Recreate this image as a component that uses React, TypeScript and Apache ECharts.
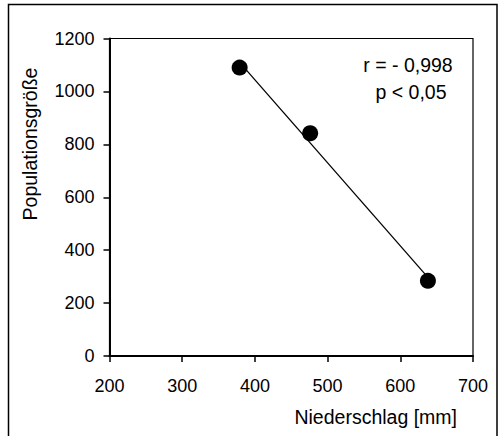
import React, { useEffect, useRef } from "react";
import * as echarts from "echarts";

const precipitation = [379, 476, 638];
const population = [1090, 842, 284];
const fitX = [379, 638];
const fitY = [1110, 297];
const xTicks = { min: 200, max: 700, interval: 100 };
const yTicks = { min: 0, max: 1200, interval: 200 };
const xName = "Niederschlag [mm]";
const yName = "Populationsgröße";
const statLines = ["r = - 0,998", "p < 0,05"];

const FONT = "'Liberation Sans', Arial, sans-serif";
const TICK_FS = 18;
const NAME_FS = 19.5;

export default function App() {
  const ref = useRef<HTMLDivElement>(null);
  useEffect(() => {
    if (!ref.current) return;
    const chart = echarts.init(ref.current, null, { renderer: "svg" });
    chart.setOption({
      animation: false,
      backgroundColor: "#fff",
      textStyle: { fontFamily: FONT },
      grid: {
        left: 109.5,
        right: 25,
        top: 38.5,
        bottom: 80,
        show: true,
        borderColor: "#000",
        borderWidth: 1.2,
        backgroundColor: "transparent",
      },
      xAxis: {
        type: "value",
        min: xTicks.min,
        max: xTicks.max,
        interval: xTicks.interval,
        axisLine: { show: true, onZero: false, lineStyle: { color: "#000", width: 2 } },
        axisTick: { show: true, inside: false, length: 6, lineStyle: { color: "#000", width: 1.5 } },
        axisLabel: {
          color: "#000",
          fontSize: TICK_FS,
          margin: 21,
          fontFamily: FONT,
          formatter: (v: number) => String(v),
        },
        splitLine: { show: false },
      },
      yAxis: {
        type: "value",
        min: yTicks.min,
        max: yTicks.max,
        interval: yTicks.interval,
        axisLine: { show: true, onZero: false, lineStyle: { color: "#000", width: 2 } },
        axisTick: { show: true, inside: false, length: 6, lineStyle: { color: "#000", width: 1.5 } },
        axisLabel: {
          color: "#000",
          fontSize: TICK_FS,
          margin: 15,
          fontFamily: FONT,
          formatter: (v: number) => String(v),
        },
        splitLine: { show: false },
      },
      series: [
        {
          type: "line",
          data: fitX.map((x, i) => [x, fitY[i]]),
          symbol: "none",
          lineStyle: { color: "#000", width: 1.3 },
          z: 2,
        },
        {
          type: "scatter",
          data: precipitation.map((x, i) => [x, population[i]]),
          symbol: "circle",
          symbolSize: 16,
          itemStyle: { color: "#000", opacity: 1 },
          z: 3,
        },
      ],
      graphic: [
        {
          type: "rect",
          shape: { x: 8.5, y: 4.5, width: 488.5, height: 440 },
          style: { fill: "none", stroke: "#000", lineWidth: 1.5 },
          silent: true,
        },
        {
          type: "text",
          x: 457,
          y: 417,
          style: {
            text: xName,
            fontSize: NAME_FS,
            fontFamily: FONT,
            fill: "#000",
            textAlign: "right",
            textVerticalAlign: "middle",
          },
        },
        {
          type: "text",
          x: 30,
          y: 144,
          rotation: Math.PI / 2,
          style: {
            text: yName,
            fontSize: NAME_FS,
            fontFamily: FONT,
            fill: "#000",
            textAlign: "center",
            textVerticalAlign: "middle",
          },
        },
        {
          type: "text",
          x: 408,
          y: 65,
          style: {
            text: statLines[0],
            fontSize: NAME_FS,
            fontFamily: FONT,
            fill: "#000",
            textAlign: "center",
            textVerticalAlign: "middle",
          },
        },
        {
          type: "text",
          x: 411,
          y: 92,
          style: {
            text: statLines[1],
            fontSize: NAME_FS,
            fontFamily: FONT,
            fill: "#000",
            textAlign: "center",
            textVerticalAlign: "middle",
          },
        },
      ],
    });
    return () => chart.dispose();
  }, []);
  return (
    <div
      ref={ref}
      style={{ position: "fixed", left: 0, top: 0, width: 498, height: 436, background: "#fff" }}
    />
  );
}
